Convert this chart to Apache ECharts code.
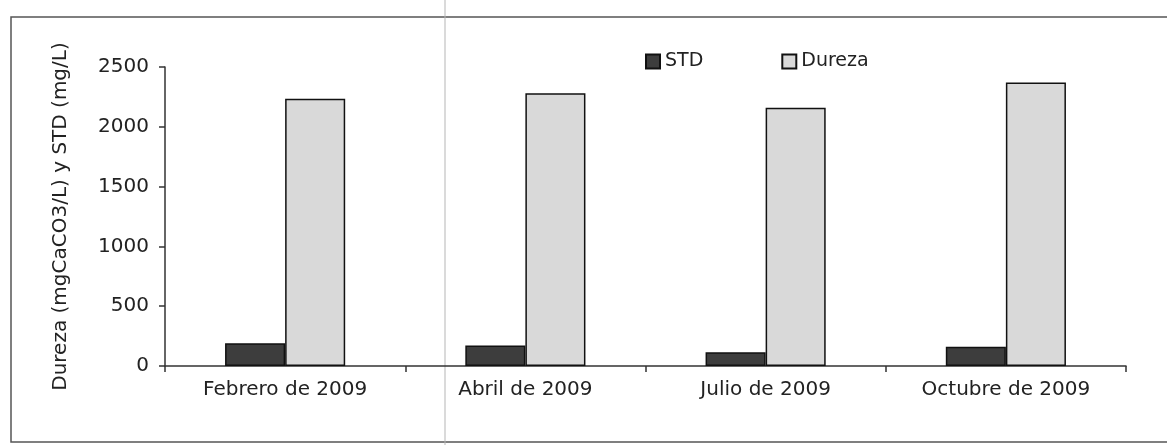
<!DOCTYPE html>
<html>
<head>
<meta charset="utf-8">
<script src="https://cdn.jsdelivr.net/npm/echarts@6/dist/echarts.min.js"></script>
<style>
  html, body { margin: 0; padding: 0; background: #fff; }
  #chart { width: 1167px; height: 445px; }
</style>
</head>
<body>
<div id="chart"></div>
<script>
// datos
const meses = ['Febrero de 2009', 'Abril de 2009', 'Julio de 2009', 'Octubre de 2009']
const std = [190, 172, 115, 160]
const dureza = [2235, 2280, 2160, 2370]
const yTicks = [0, 500, 1000, 1500, 2000, 2500]

const fuente = 'DejaVu Sans'
const chart = echarts.init(document.getElementById('chart'))

chart.setOption({
  backgroundColor: '#ffffff',
  animation: false,
  textStyle: { fontFamily: fuente, color: '#222' },
  legend: {
    left: 640,
    top: 47,
    icon: 'rect',
    itemWidth: 14,
    itemHeight: 14,
    itemGap: 78,
    textStyle: { fontFamily: fuente, fontSize: 19, color: '#222' },
    data: ['STD', 'Dureza']
  },
  grid: { left: 165, right: 41, top: 67, bottom: 79 },
  xAxis: {
    type: 'category',
    data: meses,
    axisLine: { lineStyle: { color: '#333', width: 1.5 } },
    axisTick: { show: true, length: 6, lineStyle: { color: '#333', width: 1.5 } },
    axisLabel: { fontSize: 20, margin: 14, color: '#222' }
  },
  yAxis: {
    type: 'value',
    min: yTicks[0],
    max: yTicks[yTicks.length - 1],
    interval: 500,
    name: 'Dureza (mgCaCO3/L) y STD (mg/L)',
    nameLocation: 'middle',
    nameGap: 94,
    nameTextStyle: { fontSize: 20, color: '#222' },
    splitLine: { show: false },
    axisLine: { show: true, lineStyle: { color: '#333', width: 1.5 } },
    axisTick: { show: true, length: 6, lineStyle: { color: '#333', width: 1.5 } },
    axisLabel: { fontSize: 20, margin: 16, color: '#222', formatter: v => String(v) }
  },
  series: [
    {
      name: 'STD',
      type: 'bar',
      data: std,
      barGap: '0%',
      barCategoryGap: '50%',
      itemStyle: { color: '#3d3d3d', borderColor: '#111', borderWidth: 1.5 }
    },
    {
      name: 'Dureza',
      type: 'bar',
      data: dureza,
      itemStyle: { color: '#d9d9d9', borderColor: '#111', borderWidth: 1.5 }
    }
  ],
  graphic: [
    {
      type: 'rect',
      shape: { x: 11, y: 17, width: 1175, height: 425 },
      style: { fill: 'none', stroke: '#555', lineWidth: 1.5 },
      silent: true
    },
    {
      type: 'line',
      shape: { x1: 445, y1: 0, x2: 445, y2: 445 },
      style: { stroke: '#b5b5b5', lineWidth: 1 },
      silent: true
    }
  ]
})
</script>
</body>
</html>
